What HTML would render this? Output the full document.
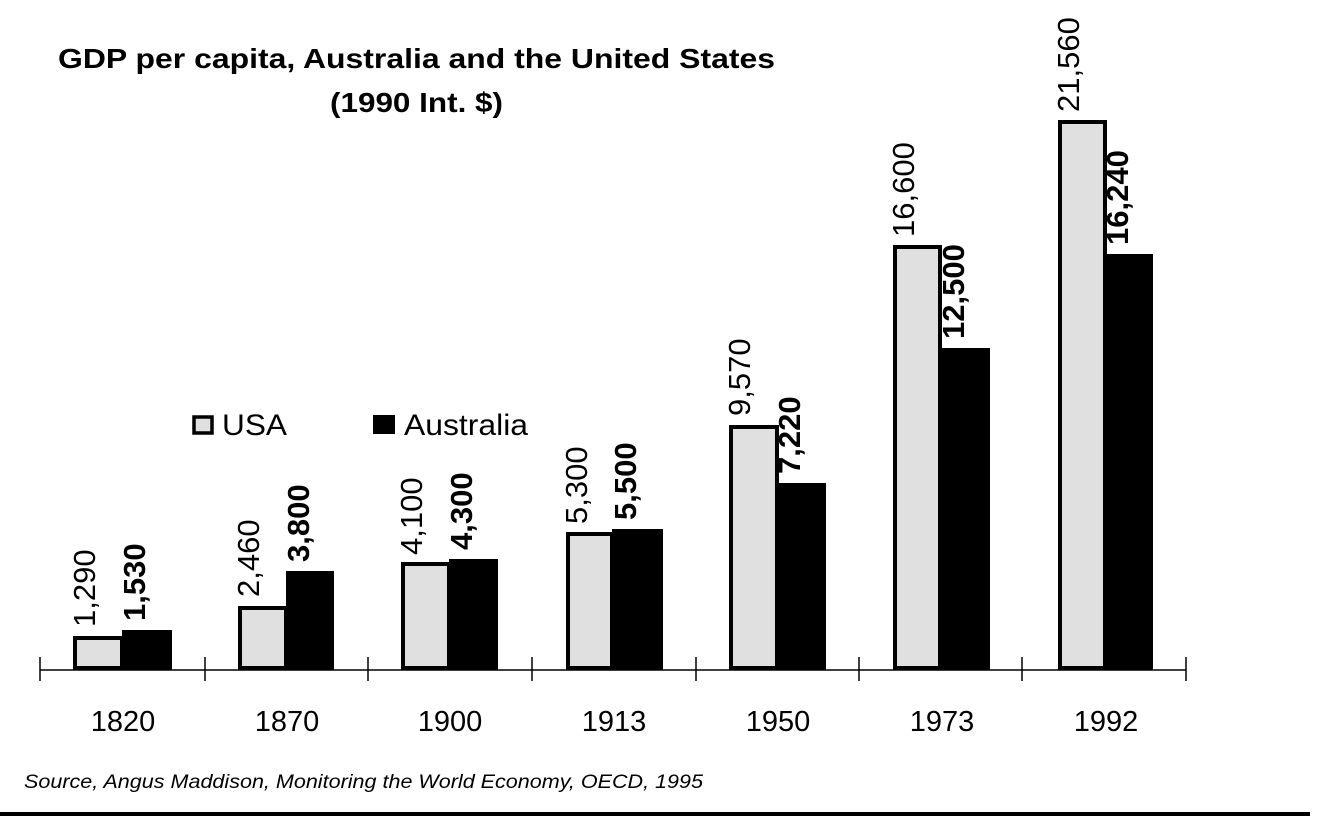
<!DOCTYPE html>
<html><head><meta charset="utf-8"><style>
html,body{margin:0;padding:0;background:#fff;}
svg{display:block;}
text{font-family:"Liberation Sans",Arial,sans-serif;}
</style></head><body>
<svg width="1318" height="822" viewBox="0 0 1318 822" xmlns="http://www.w3.org/2000/svg">
<rect width="1318" height="822" fill="#fff"/>
<text x="58" y="68" font-size="28" font-weight="bold" textLength="717" lengthAdjust="spacingAndGlyphs">GDP per capita, Australia and the United States</text>
<text x="330" y="112" font-size="28" font-weight="bold" textLength="173" lengthAdjust="spacingAndGlyphs">(1990 Int. $)</text>

<line x1="40" y1="670" x2="1186" y2="670" stroke="#000" stroke-width="1.5"/>
<g stroke="#000" stroke-width="1.5">
<line x1="40" y1="657" x2="40" y2="681"/><line x1="205" y1="657" x2="205" y2="681"/>
<line x1="368" y1="657" x2="368" y2="681"/><line x1="532" y1="657" x2="532" y2="681"/>
<line x1="696" y1="657" x2="696" y2="681"/><line x1="859" y1="657" x2="859" y2="681"/>
<line x1="1022" y1="657" x2="1022" y2="681"/><line x1="1186" y1="657" x2="1186" y2="681"/>
</g>

<g fill="#e0e0e0" stroke="#000" stroke-width="4">
<rect x="75" y="638" width="47" height="30"/>
<rect x="240" y="608" width="46" height="60"/>
<rect x="403" y="564" width="46" height="104"/>
<rect x="568" y="534" width="44" height="134"/>
<rect x="731" y="427" width="46" height="241"/>
<rect x="895" y="247" width="45" height="421"/>
<rect x="1060" y="122" width="45" height="546"/>
</g>
<g fill="#000">
<rect x="122" y="630" width="50" height="40"/>
<rect x="286" y="571" width="48" height="99"/>
<rect x="449" y="559" width="49" height="111"/>
<rect x="612" y="529" width="51" height="141"/>
<rect x="777" y="483" width="49" height="187"/>
<rect x="940" y="348" width="50" height="322"/>
<rect x="1105" y="254" width="48" height="416"/>
</g>

<g font-size="31">
<text transform="translate(95,627) rotate(-90)">1,290</text>
<text transform="translate(259,597) rotate(-90)">2,460</text>
<text transform="translate(422,555) rotate(-90)">4,100</text>
<text transform="translate(587,524) rotate(-90)">5,300</text>
<text transform="translate(750,416) rotate(-90)">9,570</text>
<text transform="translate(914,237) rotate(-90)">16,600</text>
<text transform="translate(1079,112) rotate(-90)">21,560</text>
</g>
<g font-size="31" font-weight="bold">
<text transform="translate(145,621) rotate(-90)">1,530</text>
<text transform="translate(309,562) rotate(-90)">3,800</text>
<text transform="translate(472,550) rotate(-90)">4,300</text>
<text transform="translate(636,520) rotate(-90)">5,500</text>
<text transform="translate(800,474) rotate(-90)">7,220</text>
<text transform="translate(964,339) rotate(-90)">12,500</text>
<text transform="translate(1128,245) rotate(-90)">16,240</text>
</g>

<g font-size="29" text-anchor="middle">
<text x="123" y="731">1820</text><text x="287" y="731">1870</text>
<text x="450" y="731">1900</text><text x="614" y="731">1913</text>
<text x="778" y="731">1950</text><text x="942" y="731">1973</text>
<text x="1106" y="731">1992</text>
</g>

<rect x="194" y="417" width="18" height="16" fill="#e0e0e0" stroke="#000" stroke-width="3.5"/>
<text x="222" y="435" font-size="30" textLength="65" lengthAdjust="spacingAndGlyphs">USA</text>
<rect x="373" y="415" width="22" height="19" fill="#000"/>
<text x="404" y="435" font-size="30" textLength="124" lengthAdjust="spacingAndGlyphs">Australia</text>

<text x="24" y="788" font-size="19" font-style="italic" textLength="679" lengthAdjust="spacingAndGlyphs">Source, Angus Maddison, Monitoring the World Economy, OECD, 1995</text>
<rect x="0" y="812" width="1310" height="4" fill="#000"/>
</svg>
</body></html>
